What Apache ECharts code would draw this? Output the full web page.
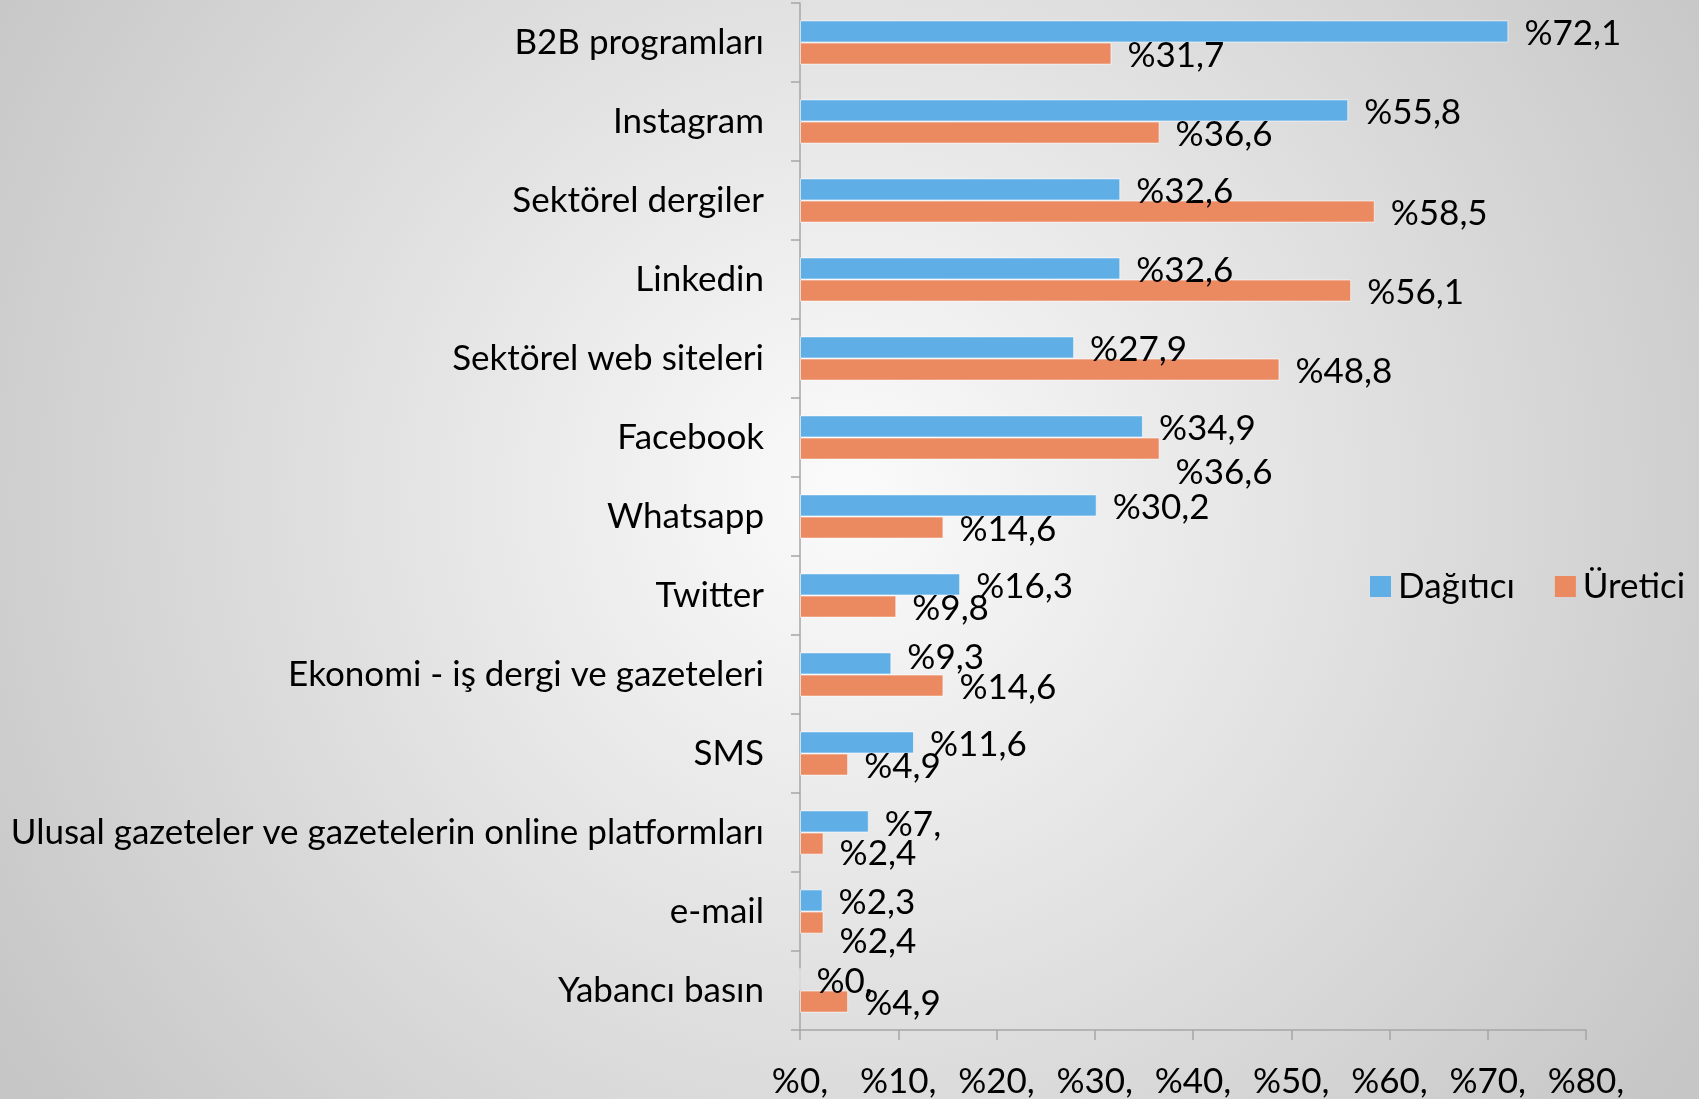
<!DOCTYPE html>
<html>
<head>
<meta charset="utf-8">
<script src="https://cdn.jsdelivr.net/npm/echarts@6/dist/echarts.min.js"></script>
<style>
html,body{margin:0;padding:0;}
#chart{width:1699px;height:1099px;}
</style>
</head>
<body>
<div id="chart"></div>
<script>
const categories = ['B2B programları','Instagram','Sektörel dergiler','Linkedin','Sektörel web siteleri','Facebook','Whatsapp','Twitter','Ekonomi - iş dergi ve gazeteleri','SMS','Ulusal gazeteler ve gazetelerin online platformları','e-mail','Yabancı basın'];
const dagitici = [72.1, 55.8, 32.6, 32.6, 27.9, 34.9, 30.2, 16.3, 9.3, 11.6, 7.0, 2.3, 0];
const uretici = [31.7, 36.6, 58.5, 56.1, 48.8, 36.6, 14.6, 9.8, 14.6, 4.9, 2.4, 2.4, 4.9];
const xTicks = [0, 10, 20, 30, 40, 50, 60, 70, 80];
const seriesNames = ['Dağıtıcı', 'Üretici'];

// vertical label nudges (px) for labels that were moved to avoid overlaps
const nudgeDagitici = {8: -8, 10: 1};
const nudgeUretici = {5: 22, 10: 8, 11: 17};

function pct(v) {
  if (Number.isInteger(v)) return '%' + v + ',';
  return '%' + String(v).replace('.', ',');
}

const FONT = 'Lato';
const FS = 35;

function buildData(vals, nudges) {
  return vals.map((v, i) => ({value: v, label: {offset: [0, 2 + (nudges[i] || 0)]}}));
}

const chart = echarts.init(document.getElementById('chart'));
chart.setOption({
  animation: false,
  backgroundColor: {
    type: 'radial', x: 0.5, y: 0.45, r: 0.92,
    colorStops: [{offset: 0, color: '#fbfbfb'}, {offset: 1, color: '#c6c6c6'}]
  },
  grid: {left: 800, right: 113, top: 3, bottom: 66, containLabel: false},
  legend: {
    orient: 'horizontal',
    left: 1370, top: 569, padding: 0, width: 329,
    itemWidth: 21, itemHeight: 21, itemGap: 40,
    icon: 'rect',
    itemStyle: {borderWidth: 0},
    textStyle: {fontFamily: FONT, fontSize: FS, color: '#000', padding: [0, 0, 0, 2]},
    data: seriesNames
  },
  xAxis: {
    type: 'value', min: 0, max: 80, interval: 10,
    splitLine: {show: false},
    axisLine: {show: true, lineStyle: {color: '#a6a6a6', width: 1.5}},
    axisTick: {show: true, length: 10, lineStyle: {color: '#a6a6a6', width: 1.5}},
    axisLabel: {
      fontFamily: FONT, fontSize: FS, color: '#000', margin: 34,
      formatter: v => xTicks.includes(v) ? pct(v) : ''
    }
  },
  yAxis: {
    type: 'category', data: categories, inverse: true,
    axisLine: {show: true, lineStyle: {color: '#a6a6a6', width: 1.5}},
    axisTick: {show: true, length: 9, lineStyle: {color: '#a6a6a6', width: 1.5}},
    axisLabel: {fontFamily: FONT, fontSize: FS, color: '#000', margin: 36}
  },
  series: [
    {
      name: seriesNames[0], type: 'bar',
      data: buildData(dagitici, nudgeDagitici),
      barGap: '0%', barCategoryGap: '44%',
      itemStyle: {color: '#5faee5', borderColor: 'rgba(255,255,255,0.6)', borderWidth: 1},
      label: {show: true, position: 'right', distance: 16, fontFamily: FONT, fontSize: FS, color: '#000', formatter: p => pct(p.value)}
    },
    {
      name: seriesNames[1], type: 'bar',
      data: buildData(uretici, nudgeUretici),
      barGap: '0%', barCategoryGap: '44%',
      itemStyle: {color: '#eb8a60', borderColor: 'rgba(255,255,255,0.6)', borderWidth: 1},
      label: {show: true, position: 'right', distance: 16, fontFamily: FONT, fontSize: FS, color: '#000', formatter: p => pct(p.value)}
    }
  ]
});
</script>
</body>
</html>
